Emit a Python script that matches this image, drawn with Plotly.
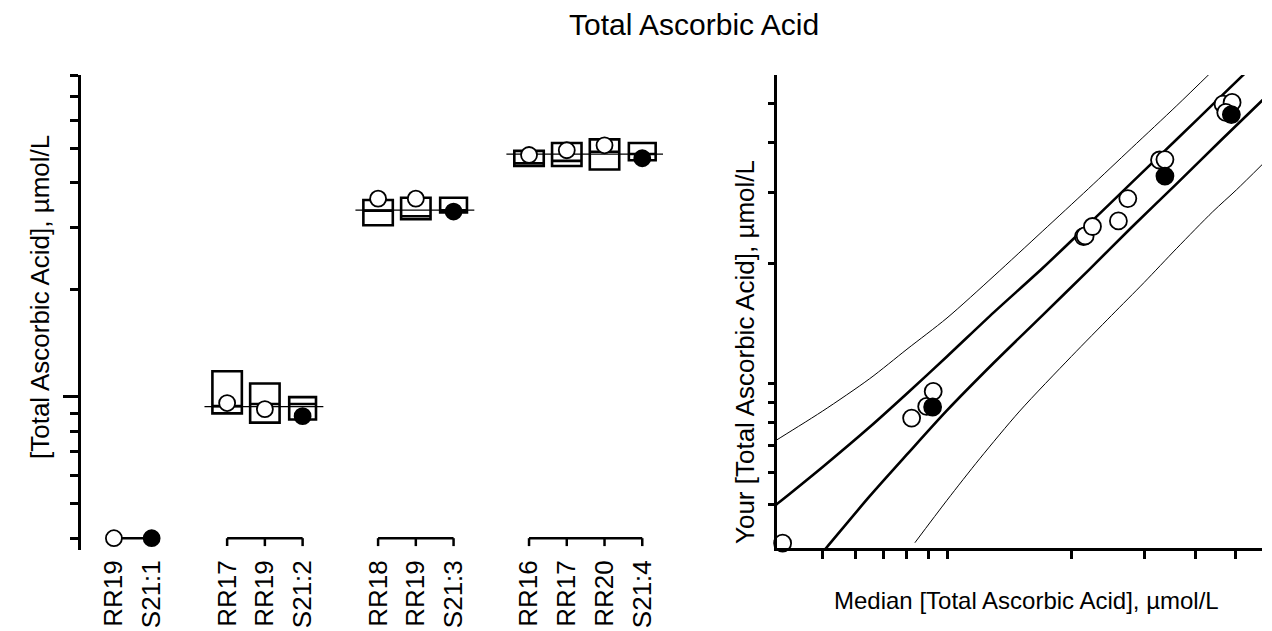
import plotly.graph_objects as go

W, H = 1272, 631
FONT = "Liberation Sans, Arial, sans-serif"

# left panel: one entry per result, grouped by sample
labels = ["RR19", "S21:1", "RR17", "RR19", "S21:2", "RR18", "RR19", "S21:3",
          "RR16", "RR17", "RR20", "S21:4"]
group_of = [0, 0, 1, 1, 1, 2, 2, 2, 3, 3, 3, 3]
your_value = [4.0, 4.0, 9.60, 9.23, 8.82, 36.1, 36.1, 33.2, 47.9, 49.4, 51.0, 46.9]
box_lo = [None, None, 8.98, 8.46, 8.63, 30.4, 31.6, 33.0, 44.6, 44.6, 43.6, 46.3]
box_med = [None, None, 9.41, 9.54, 9.54, 33.4, 32.2, 33.5, 45.4, 46.1, 48.9, 48.2]
box_hi = [None, None, 11.8, 10.9, 9.98, 35.8, 36.3, 36.3, 49.2, 51.8, 53.0, 51.8]
group_target = [None, 9.38, 33.5, 48.2]
bracket_level = 4.0
bracket_tick = 3.8
left_minor = [4, 5, 6, 7, 8, 9, 20, 30, 40, 50, 60, 70, 80]
left_major = [10]

# right panel: median of round vs your result
open_x = [4.0, 8.21, 8.93, 9.26, 21.4, 21.6, 22.5, 26.0, 27.4, 32.7, 33.7, 46.6, 49.0, 47.3]
open_y = [4.0, 8.21, 8.78, 9.57, 23.3, 23.4, 24.7, 25.5, 29.0, 36.2, 36.3, 49.9, 50.4, 47.6]
filled_x = [9.23, 33.7, 48.8]
filled_y = [8.75, 33.0, 47.0]

# acceptance limits
inner_hi_x = [3.5, 3.87, 5.0, 6.5, 8.0, 10, 13, 17, 22, 28, 36, 46, 56]
inner_hi_y = [4.6, 5.0, 6.2, 7.8, 9.46, 11.7, 15.1, 19.4, 25.0, 31.8, 40.8, 52.1, 63.4]
inner_lo_x = [4.6, 5.11, 6.5, 8.0, 10, 13, 17, 22, 28, 36, 46, 60]
inner_lo_y = [3.43, 3.9, 5.24, 6.66, 8.58, 11.3, 14.8, 19.2, 24.6, 31.6, 40.5, 52.8]
outer_hi_x = [3.5, 3.87, 5.0, 6.5, 8.0, 10, 13, 17, 22, 28, 36, 44]
outer_hi_y = [6.78, 7.24, 8.55, 10.3, 12.2, 14.6, 18.6, 24.0, 30.7, 38.8, 49.5, 60.5]
outer_lo_x = [8.36, 10, 12, 15, 20, 25, 30, 36, 44, 50.2, 58]
outer_lo_y = [4.01, 5.12, 6.5, 8.55, 11.7, 14.8, 17.9, 21.8, 26.9, 30.5, 35.3]
right_ticks = [5, 6, 7, 8, 9, 10, 20, 30, 40, 50]

slots = [i + g for i, g in enumerate(group_of)]


def px_x(p):
    return p / W


def px_y(p):
    return 1 - p / H


fig = go.Figure()

# boxes (RR and S21 drawn with slightly different widths)
for is_s21, width in [(False, 0.78), (True, 0.71)]:
    idx = [i for i in range(len(labels))
           if box_lo[i] is not None and labels[i].startswith("S21") == is_s21]
    fig.add_trace(go.Box(
        x=[slots[i] for i in idx],
        q1=[box_lo[i] for i in idx], q3=[box_hi[i] for i in idx],
        median=[box_med[i] for i in idx],
        lowerfence=[box_lo[i] for i in idx], upperfence=[box_hi[i] for i in idx],
        width=width, whiskerwidth=0, fillcolor="white",
        line=dict(color="black", width=2.6), boxpoints=False,
        xaxis="x", yaxis="y", showlegend=False, hoverinfo="skip"))

# target line for each sample
for g, t in enumerate(group_target):
    if t is None:
        continue
    s = [slots[i] for i in range(len(slots)) if group_of[i] == g]
    fig.add_trace(go.Scatter(x=[min(s) - 0.6, max(s) + 0.55], y=[t, t], mode="lines",
                             line=dict(color="black", width=1.2),
                             xaxis="x", yaxis="y", showlegend=False, hoverinfo="skip"))

# brackets under each sample group
for g in sorted(set(group_of)):
    s = [slots[i] for i in range(len(slots)) if group_of[i] == g]
    bx, by = [min(s), max(s)], [bracket_level, bracket_level]
    if len(s) > 2:
        for p in s:
            bx += [None, p, p]
            by += [None, bracket_level, bracket_tick]
    fig.add_trace(go.Scatter(x=bx, y=by, mode="lines", line=dict(color="black", width=2.5),
                             xaxis="x", yaxis="y", showlegend=False, hoverinfo="skip"))

rr = [i for i in range(len(labels)) if not labels[i].startswith("S21")]
s21 = [i for i in range(len(labels)) if labels[i].startswith("S21")]
fig.add_trace(go.Scatter(x=[slots[i] for i in rr], y=[your_value[i] for i in rr],
                         mode="markers", cliponaxis=False,
                         marker=dict(size=16, color="white", line=dict(color="black", width=1.8)),
                         xaxis="x", yaxis="y", showlegend=False))
fig.add_trace(go.Scatter(x=[slots[i] for i in s21], y=[your_value[i] for i in s21],
                         mode="markers", cliponaxis=False,
                         marker=dict(size=16, color="black", line=dict(color="black", width=1.8)),
                         xaxis="x", yaxis="y", showlegend=False))

# right panel limits
for xs, ys, w in [(outer_hi_x, outer_hi_y, 1.0), (outer_lo_x, outer_lo_y, 1.0),
                  (inner_hi_x, inner_hi_y, 2.6), (inner_lo_x, inner_lo_y, 2.6)]:
    fig.add_trace(go.Scatter(x=xs, y=ys, mode="lines",
                             line=dict(color="black", width=w, shape="spline", smoothing=0.8),
                             xaxis="x2", yaxis="y2", showlegend=False, hoverinfo="skip"))
fig.add_trace(go.Scatter(x=open_x, y=open_y, mode="markers", cliponaxis=False,
                         marker=dict(size=17, color="white", line=dict(color="black", width=1.8)),
                         xaxis="x2", yaxis="y2", showlegend=False))
fig.add_trace(go.Scatter(x=filled_x, y=filled_y, mode="markers", cliponaxis=False,
                         marker=dict(size=17, color="black", line=dict(color="black", width=1.8)),
                         xaxis="x2", yaxis="y2", showlegend=False))

axis_common = dict(showgrid=False, zeroline=False, automargin=False,
                   linecolor="black", tickcolor="black")


def label(text, x, y, angle=0, size=26):
    return dict(text=text, x=px_x(x), y=px_y(y), xref="paper", yref="paper",
                xanchor="center", yanchor="middle", showarrow=False,
                textangle=angle, font=dict(size=size))


fig.update_layout(
    width=W, height=H, margin=dict(l=0, r=0, t=0, b=0),
    paper_bgcolor="white", plot_bgcolor="white",
    font=dict(family=FONT, color="black", size=26),
    boxmode="overlay",
    xaxis=dict(domain=[px_x(80.7), px_x(680)], range=[-0.88, 15], showline=False,
               tickmode="array", tickvals=slots, ticktext=labels, tickangle=-90,
               ticks="", ticklabelstandoff=4, tickfont=dict(size=26), **axis_common),
    yaxis=dict(domain=[px_y(550), px_y(75)], type="log", range=[0.5688, 1.9055],
               showline=True, linewidth=2.5, showticklabels=False,
               tickmode="array", tickvals=left_major, ticks="outside", ticklen=15, tickwidth=2.5,
               minor=dict(tickmode="array", tickvals=left_minor, ticks="outside",
                          ticklen=8, tickwidth=2.5, tickcolor="black", showgrid=False),
               **axis_common),
    xaxis2=dict(domain=[px_x(776.7), px_x(1262)], type="log", range=[0.5877, 1.7626],
                anchor="y2", showline=True, linewidth=2.5, showticklabels=False,
                tickmode="array", tickvals=right_ticks, ticks="outside", ticklen=8,
                tickwidth=2.5, **axis_common),
    yaxis2=dict(domain=[px_y(548), px_y(75)], type="log", range=[0.59, 1.771],
                anchor="x2", showline=True, linewidth=2.5, showticklabels=False,
                tickmode="array", tickvals=right_ticks, ticks="outside", ticklen=6,
                tickwidth=2.5, **axis_common),
    annotations=[
        label("Total Ascorbic Acid", 694, 25, size=30),
        label("[Total Ascorbic Acid], µmol/L", 40, 297, -90),
        label("Your [Total Ascorbic Acid], µmol/L", 745, 352, -90),
        label("Median [Total Ascorbic Acid], µmol/L", 1026, 600, size=24),
    ],
)

fig.write_html("out.html", config={"displayModeBar": False},
               post_script="document.body.style.margin='0px';")
